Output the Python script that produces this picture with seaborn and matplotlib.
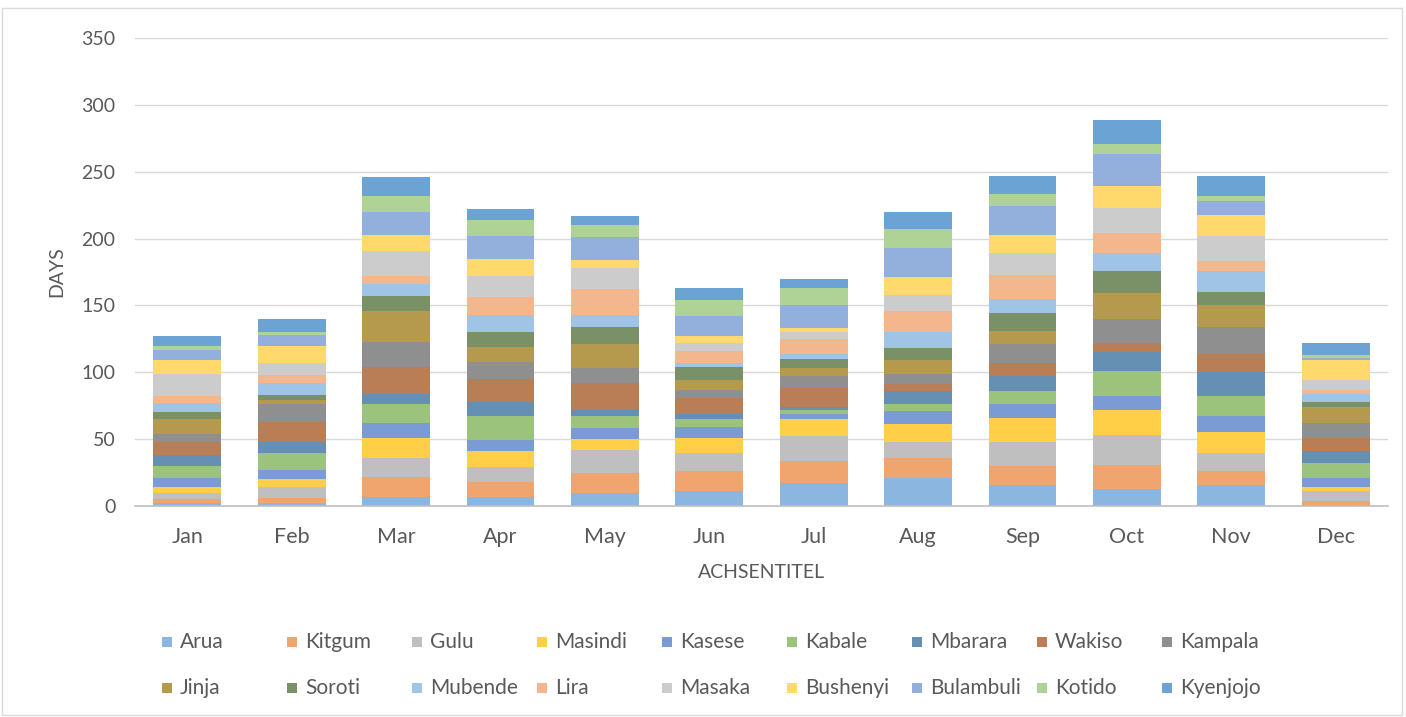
import numpy as np
import pandas as pd
import matplotlib
matplotlib.use("Agg")
import matplotlib.pyplot as plt
import seaborn as sns
from matplotlib.patches import Rectangle

months = ["Jan", "Feb", "Mar", "Apr", "May", "Jun", "Jul", "Aug", "Sep", "Oct", "Nov", "Dec"]

arua      = [2, 2, 7, 7, 10, 11, 17, 21, 16, 13, 16, 1]
kitgum    = [3, 4, 15, 11, 15, 15, 17, 15, 14, 18, 10, 3]
gulu      = [5, 8, 14, 11, 17, 14, 18, 12, 18, 22, 14, 7]
masindi   = [4, 6, 15, 12, 8, 11, 13, 13, 18, 19, 15, 3]
kasese    = [7, 7, 11, 8, 8, 8, 4, 10, 10, 10, 12, 7]
kabale    = [9, 13, 14, 18, 9, 6, 3, 5, 10, 19, 15, 11]
mbarara   = [8, 8, 8, 11, 5, 4, 2, 10, 11, 14, 18, 9]
wakiso    = [10, 15, 20, 17, 20, 12, 14, 5, 10, 7, 14, 10]
kampala   = [6, 13, 19, 13, 11, 6, 9, 8, 14, 18, 20, 11]
jinja     = [11, 3, 23, 11, 18, 7, 6, 10, 10, 19, 16, 12]
soroti    = [5, 4, 11, 11, 13, 10, 7, 9, 13, 17, 10, 4]
mubende   = [7, 9, 9, 13, 9, 3, 4, 12, 11, 13, 16, 6]
lira      = [5, 6, 6, 13, 19, 9, 11, 16, 18, 15, 7, 3]
masaka    = [17, 9, 19, 16, 16, 6, 5, 12, 16, 19, 19, 7]
bushenyi  = [10, 13, 12, 13, 6, 5, 3, 13, 14, 16, 16, 15]
bulambuli = [8, 8, 17, 17, 17, 15, 17, 22, 21, 24, 10, 2]
kotido    = [3, 2, 12, 12, 9, 12, 13, 14, 9, 8, 4, 2]
kyenjojo  = [7, 10, 14, 8, 7, 9, 7, 13, 14, 18, 15, 9]

series_names = ["Arua", "Kitgum", "Gulu", "Masindi", "Kasese", "Kabale", "Mbarara", "Wakiso",
                "Kampala", "Jinja", "Soroti", "Mubende", "Lira", "Masaka", "Bushenyi",
                "Bulambuli", "Kotido", "Kyenjojo"]
series_values = [arua, kitgum, gulu, masindi, kasese, kabale, mbarara, wakiso, kampala, jinja,
                 soroti, mubende, lira, masaka, bushenyi, bulambuli, kotido, kyenjojo]
colors = ["#8AB6E0", "#F0A46E", "#BFBFBF", "#FFCF48", "#7B9BD5", "#9BC37C", "#6690B3",
          "#B97E55", "#8F8F8F", "#B59A4E", "#7A9167", "#A0C4E6", "#F4B68C", "#CCCCCC",
          "#FFD96C", "#93AFDC", "#AFD396", "#6CA3D5"]

sns.set_theme(style="white")
plt.rcParams['font.family'] = ['Lato', 'DejaVu Sans']
TXT = "#595959"

W, H = 1406, 717
fig = plt.figure(figsize=(W / 100, H / 100), dpi=100)
ax = fig.add_axes([135 / W, 1 - 506 / H, (1388 - 135) / W, (506 - 38) / H])

cum = np.cumsum(np.array(series_values, dtype=float), axis=0)
for i in reversed(range(len(series_names))):
    df = pd.DataFrame({"month": months, "value": cum[i]})
    sns.barplot(data=df, x="month", y="value", order=months, color=colors[i],
                width=0.65, saturation=1, errorbar=None, linewidth=0, ax=ax)

ax.set_xlim(-0.5, 11.5)
ax.set_ylim(0, 350)
ax.set_yticks(range(0, 351, 50))
ax.set_axisbelow(True)
ax.yaxis.grid(True, color="#D9D9D9", linewidth=1)
ax.xaxis.grid(False)
for s in ["left", "top", "right"]:
    ax.spines[s].set_visible(False)
ax.spines["bottom"].set_color("#BFBFBF")
ax.spines["bottom"].set_linewidth(1.2)
ax.tick_params(axis="y", length=0, pad=14, labelsize=14, labelcolor=TXT)
ax.tick_params(axis="x", length=0, pad=15, labelsize=15.5, labelcolor=TXT)
ax.set_ylabel("DAYS", fontsize=14, color=TXT, labelpad=12)
ax.set_xlabel("ACHSENTITEL", fontsize=14, color=TXT, labelpad=12)

# legend (row-major, 9 columns)
for i, (name, c) in enumerate(zip(series_names, colors)):
    row, col = divmod(i, 9)
    x = 162 + col * 125
    y = 642 + row * 46
    fig.add_artist(Rectangle((x / W, 1 - (y + 5) / H), 10 / W, 10 / H,
                             transform=fig.transFigure, facecolor=c, edgecolor="none"))
    fig.text((x + 18) / W, 1 - y / H, name, fontsize=15, color=TXT, va="center", ha="left")

# chart area border
fig.add_artist(Rectangle((2 / W, 2 / H), (W - 6) / W, (H - 10) / H, transform=fig.transFigure,
                         facecolor="none", edgecolor="#D9D9D9", linewidth=1))

fig.savefig("out.png", dpi=100)
